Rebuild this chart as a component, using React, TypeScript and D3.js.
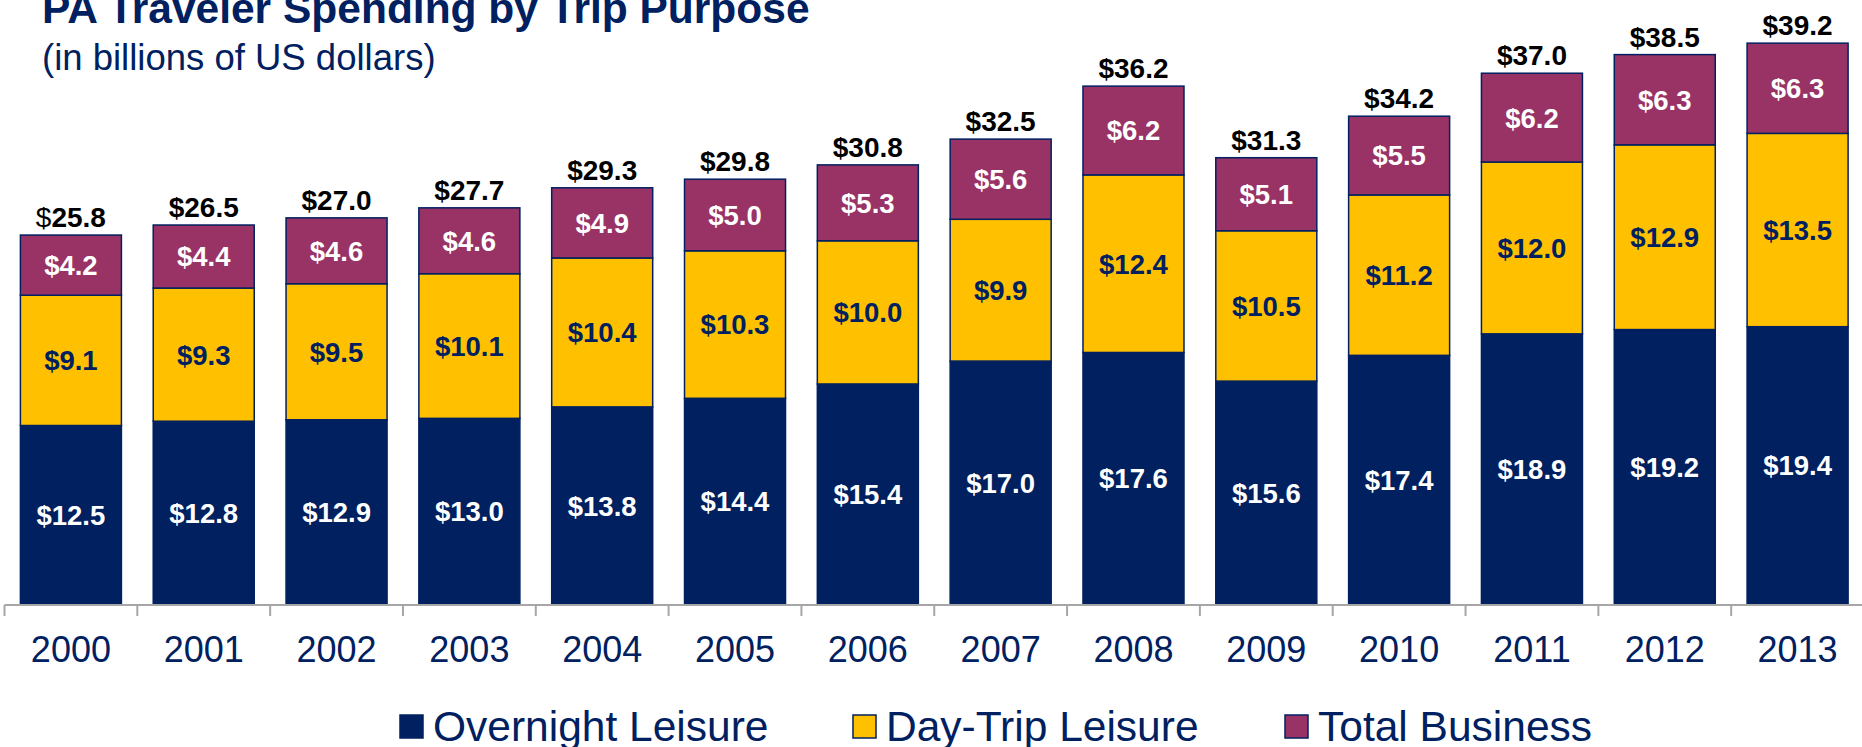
import React from "react";
import * as d3 from "d3";

const years = ["2000","2001","2002","2003","2004","2005","2006","2007","2008","2009","2010","2011","2012","2013"];
const overnightLeisure = [12.5,12.8,12.9,13.0,13.8,14.4,15.4,17.0,17.6,15.6,17.4,18.9,19.2,19.4];
const dayTripLeisure = [9.1,9.3,9.5,10.1,10.4,10.3,10.0,9.9,12.4,10.5,11.2,12.0,12.9,13.5];
const totalBusiness = [4.2,4.4,4.6,4.6,4.9,5.0,5.3,5.6,6.2,5.1,5.5,6.2,6.3,6.3];
const totals = [25.8,26.5,27.0,27.7,29.3,29.8,30.8,32.5,36.2,31.3,34.2,37.0,38.5,39.2];

const seriesNames = ["Overnight Leisure", "Day-Trip Leisure", "Total Business"];
const seriesColors = ["#002060", "#FFC000", "#993366"];
const labelColors = ["#FFFFFF", "#002060", "#FFFFFF"];

const NAVY = "#002060";
const FONT = "'Liberation Sans', Arial, Helvetica, sans-serif";

export default function App() {
  const W = 1862, H = 747;
  const x = d3.scaleBand<string>().domain(years).range([4.5, 1864]).paddingInner(0.2395).paddingOuter(0.11975);
  const y = d3.scaleLinear().domain([0, 42]).range([604.5, 604.5 - 42 * 14.32]);

  const rows = years.map((yr, i) => ({ year: yr, o: overnightLeisure[i], d: dayTripLeisure[i], b: totalBusiness[i] }));
  const stack = d3.stack<any>().keys(["o", "d", "b"])(rows);
  const step = x.step();
  const x0 = x.range()[0];

  const legendX = [400, 853, 1285];

  return (
    <svg width={W} height={H} style={{ position: "absolute", left: 0, top: 0, background: "#fff" }} fontFamily={FONT}>
      <text x={42} y={23} fontSize={42.5} fontWeight="bold" fill={NAVY}>PA Traveler Spending by Trip Purpose</text>
      <text x={42} y={70} fontSize={36.5} fill={NAVY}>(in billions of US dollars)</text>

      {stack.map((layer, si) => (
        <g key={si}>
          {layer.map((seg, i) => {
            const bx = x(years[i])!;
            const y0 = y(seg[0]);
            const y1 = y(seg[1]);
            const val = [overnightLeisure, dayTripLeisure, totalBusiness][si][i];
            return (
              <g key={i}>
                <rect x={bx} y={y1} width={x.bandwidth()} height={y0 - y1} fill={seriesColors[si]} stroke={NAVY} strokeWidth={1.5} />
                <text x={bx + x.bandwidth() / 2} y={(y0 + y1) / 2} dy="0.36em" textAnchor="middle" fontSize={27.5} fontWeight="bold" fill={labelColors[si]}>
                  {"$" + val.toFixed(1)}
                </text>
              </g>
            );
          })}
        </g>
      ))}

      {years.map((yr, i) => {
        const top = y(stack[2][i][1]);
        return (
          <text key={yr} x={x(yr)! + x.bandwidth() / 2} y={top - 8} textAnchor="middle" fontSize={28} fontWeight="bold" fill="#000">
            {i === 0 ? (<><tspan fontWeight="normal">$</tspan>{totals[i].toFixed(1)}</>) : "$" + totals[i].toFixed(1)}
          </text>
        );
      })}

      <line x1={x0} x2={W} y1={605} y2={605} stroke="#A6A6A6" strokeWidth={2} />
      {d3.range(years.length + 1).map(k => (
        <line key={k} x1={x0 + k * step} x2={x0 + k * step} y1={605} y2={616} stroke="#A6A6A6" strokeWidth={2} />
      ))}
      {years.map(yr => (
        <text key={yr} x={x(yr)! + x.bandwidth() / 2} y={661.5} textAnchor="middle" fontSize={36} fill={NAVY}>{yr}</text>
      ))}

      {seriesNames.map((name, i) => (
        <g key={name}>
          <rect x={legendX[i]} y={715} width={23} height={23} fill={seriesColors[i]} stroke={NAVY} strokeWidth={1.5} />
          <text x={legendX[i] + 33} y={741} fontSize={42.5} fill={NAVY}>{name}</text>
        </g>
      ))}
    </svg>
  );
}
